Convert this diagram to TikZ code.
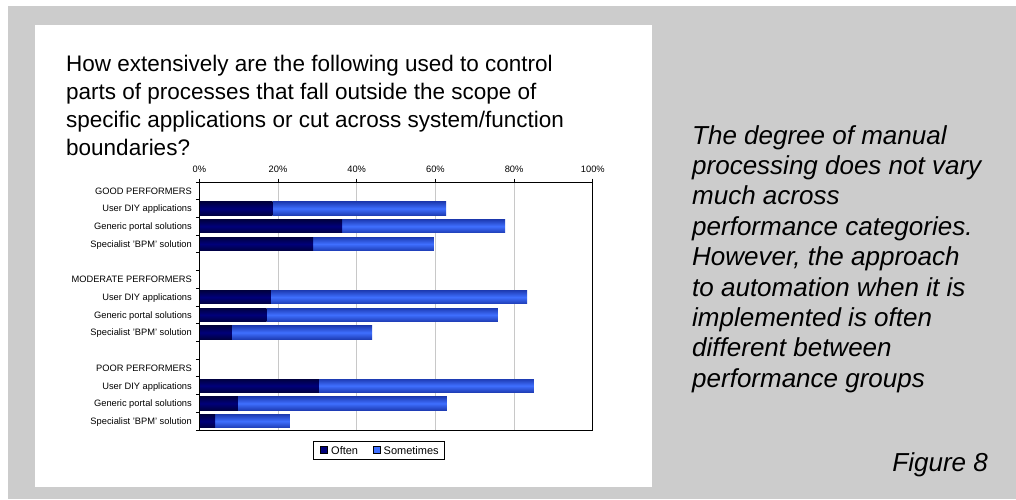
\documentclass[tikz,border=0pt]{standalone}
\usepackage{fontspec}
\setmainfont{Liberation Sans}
\definecolor{bggray}{HTML}{CCCCCC}
\definecolor{gridgray}{HTML}{C8C8C8}
\definecolor{oftenmid}{HTML}{00007A}
\definecolor{oftenedge}{HTML}{000040}
\definecolor{somemid}{HTML}{3F6FFF}
\definecolor{someedge}{HTML}{1E3CB4}
\begin{document}
\begin{tikzpicture}[x=1pt,y=-1pt,
  titletext/.style={anchor=base west,inner sep=0pt,font=\fontsize{22.5}{27}\selectfont},
  notetext/.style={anchor=base west,inner sep=0pt,font=\fontsize{26}{30}\selectfont\itshape},
  axislabel/.style={anchor=base,inner sep=0pt,font=\fontsize{9.3}{11}\selectfont},
  catlabel/.style={anchor=base east,inner sep=0pt,font=\fontsize{9.3}{11}\selectfont},
  legtext/.style={anchor=base west,inner sep=0pt,font=\fontsize{11}{13}\selectfont},
  oftenbar/.style={top color=oftenedge,bottom color=oftenedge,middle color=oftenmid,draw=none},
  somebar/.style={top color=someedge,bottom color=someedge,middle color=somemid,draw=none},
  gridline/.style={draw=gridgray,line width=0.9pt},
  axisline/.style={draw=black,line width=0.9pt}
]
\useasboundingbox (0,0) rectangle (1016,499);
% backgrounds
\fill[white] (0,0) rectangle (1016,499);
\fill[bggray] (8,6) rectangle (1016,499);
\fill[white] (35,25) rectangle (652,487);

% title
\node[titletext] (t1) at (66,71) {How extensively are the following used to control};
\node[titletext] (t2) at (66,99) {parts of processes that fall outside the scope of};
\node[titletext] (t3) at (66,127) {specific applications or cut across system/function};
\node[titletext] (t4) at (66,155) {boundaries?};

% note text
\node[notetext] (n1) at (692,144) {The degree of manual};
\node[notetext] (n2) at (692,174.4) {processing does not vary};
\node[notetext] (n3) at (692,204.8) {much across};
\node[notetext] (n4) at (692,235.2) {performance categories.};
\node[notetext] (n5) at (692,265.6) {However, the approach};
\node[notetext] (n6) at (692,296) {to automation when it is};
\node[notetext] (n7) at (692,326.4) {implemented is often};
\node[notetext] (n8) at (692,356.8) {different between};
\node[notetext] (n9) at (692,387.2) {performance groups};
\node[anchor=base east,inner sep=0pt,font=\fontsize{26}{30}\selectfont\itshape] (fig) at (988,471) {Figure 8};

% chart geometry
\def\xa{199.3}
\def\xs{3.935}
\def\ya{182}
\def\yb{430}
\def\ch{17.714}

% gridlines
\foreach \v in {20,40,60,80}{
  \draw[gridline] ({\xa+\xs*\v},\ya) -- ({\xa+\xs*\v},\yb);
}
% axis labels and top ticks
\foreach \v in {0,20,40,60,80,100}{
  \node[axislabel] (ax\v) at ({\xa+\xs*\v},172) {\v\%};
  \draw[axisline] ({\xa+\xs*\v},{\ya-3.5}) -- ({\xa+\xs*\v},\ya);
}
% left ticks
\foreach \i in {0,...,14}{
  \draw[axisline] ({\xa-3.5},{\ya+\ch*\i}) -- (\xa,{\ya+\ch*\i});
}

% bars
\foreach \i/\o/\t in {1/18.6/62.7,2/36.3/77.7,3/28.9/59.6,6/18.2/83.3,7/17.1/75.9,8/8.3/43.9,11/30.4/85.0,12/9.8/62.9,13/4.0/23.0}{
  \path[somebar] ({\xa+\xs*\o},{\ya+\ch*(\i+0.5)-6.7}) rectangle ({\xa+\xs*\t},{\ya+\ch*(\i+0.5)+6.7});
  \path[oftenbar] (\xa,{\ya+\ch*(\i+0.5)-6.7}) rectangle ({\xa+\xs*\o},{\ya+\ch*(\i+0.5)+6.7});
}

% plot frame
\draw[axisline] (\xa,\ya) rectangle ({\xa+\xs*100},\yb);

% category labels
\foreach \i/\lab in {0/GOOD PERFORMERS,1/User DIY applications,2/Generic portal solutions,3/Specialist 'BPM' solution,5/MODERATE PERFORMERS,6/User DIY applications,7/Generic portal solutions,8/Specialist 'BPM' solution,10/POOR PERFORMERS,11/User DIY applications,12/Generic portal solutions,13/Specialist 'BPM' solution}{
  \node[catlabel] (c\i) at (192,{\ya+\ch*(\i+0.5)+3.3}) {\lab};
}

% legend
\draw[black,line width=0.9pt,fill=white] (313,441) rectangle (444,459);
\draw[black,line width=0.5pt,fill=oftenmid] (320,446) rectangle (327,453);
\draw[black,line width=0.5pt,fill=somemid] (373,446) rectangle (380,453);
\node[legtext] (lo) at (331,454.5) {Often};
\node[legtext] (ls) at (383.5,454.5) {Sometimes};
\end{tikzpicture}
\end{document}
